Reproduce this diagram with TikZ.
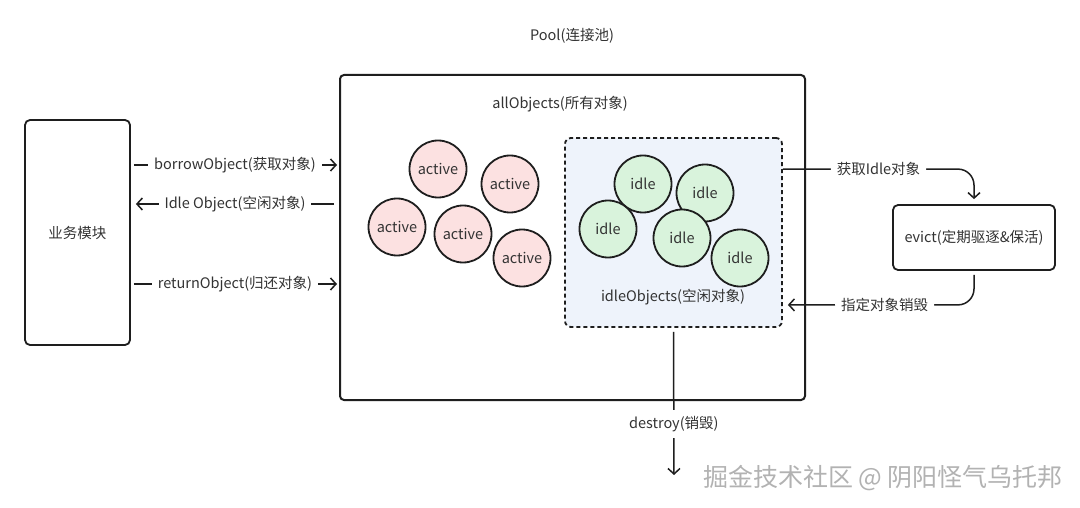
\documentclass[tikz,border=0pt]{standalone}
\usepackage{fontspec}
\setmainfont{Noto Sans CJK SC}
\usetikzlibrary{arrows.meta}
\definecolor{ink}{HTML}{1E1E1E}
\definecolor{actfill}{HTML}{FCE1E1}
\definecolor{idlefill}{HTML}{D9F3DC}
\definecolor{boxfill}{HTML}{EEF3FB}
\definecolor{txt}{HTML}{333333}
\newcommand\dfont{\fontsize{14.5}{16}\selectfont}
\newcommand\wmfont{\fontsize{25}{28}\selectfont}
\begin{document}
\begin{tikzpicture}[x=1pt,y=-1pt,
  every node/.style={font=\dfont, text=txt},
  ln/.style={line width=1.5pt, draw=ink},
  arr/.style={ln, -{Straight Barb[length=5.5pt,width=12pt]}},
  lbl/.style={fill=white, inner sep=6pt},
  bizbox/.style={draw=ink, line width=1.8pt, rounded corners=5pt},
  poolbox/.style={draw=ink, line width=2pt, rounded corners=4pt},
  dashbox/.style={draw=ink, line width=1.8pt, dash pattern=on 4pt off 3pt, rounded corners=6pt, fill=boxfill},
  ball/.style={circle, draw=ink, line width=1.8pt, minimum size=57pt, inner sep=0pt},
  act/.style={ball, fill=actfill},
  idl/.style={ball, fill=idlefill}]
\useasboundingbox (0,0) rectangle (1080,508);
\fill[white] (0,0) rectangle (1080,508);

% boxes
\node[bizbox, minimum width=105pt, minimum height=225pt] (biz) at (77.5,232.5) {业务模块};
\node[poolbox, minimum width=465pt, minimum height=325pt] (pool) at (572.5,237.5) {};
\node (poollbl) at (572,36) {Pool(连接池)};
\node (alllbl) at (560,104) {allObjects(所有对象)};
\node[dashbox, minimum width=217pt, minimum height=189pt] (idlebox) at (673.5,232.5) {};
\node (idlelbl) at (673,297) {idleObjects(空闲对象)};
\node[bizbox, minimum width=162pt, minimum height=65pt] (evict) at (974,237.5) {evict(定期驱逐\&保活)};

% active objects
\node[act] (a1) at (438,169) {active};
\node[act] (a2) at (510,184) {active};
\node[act] (a3) at (397,227) {active};
\node[act] (a4) at (463,234) {active};
\node[act] (a5) at (522,258) {active};

% idle objects
\node[idl] (i1) at (643,184) {idle};
\node[idl] (i2) at (705,193) {idle};
\node[idl] (i3) at (608,229) {idle};
\node[idl] (i4) at (682,238) {idle};
\node[idl] (i5) at (740,258) {idle};

% left connectors
\coordinate (r1) at (0,165);
\coordinate (r2) at (0,204);
\coordinate (r3) at (0,284);
\draw[arr, shorten <=3pt, shorten >=2pt] (biz.east |- r1) -- node[lbl]{borrowObject(获取对象)} (pool.west |- r1);
\draw[arr, shorten <=5pt, shorten >=5pt] (pool.west |- r2) -- node[lbl]{Idle Object(空闲对象)} (biz.east |- r2);
\draw[arr, shorten <=3pt, shorten >=2pt] (biz.east |- r3) -- node[lbl]{returnObject(归还对象)} (pool.west |- r3);

% evict loop
\draw[arr, rounded corners=16pt] ([yshift=-32pt]idlebox.north east) -| node[lbl, pos=0.25]{获取Idle对象} ([yshift=5pt]evict.north);
\draw[arr, rounded corners=16pt, shorten <=4pt] (evict.south) |- node[lbl, pos=0.74]{指定对象销毁} ([xshift=5pt,yshift=23pt]idlebox.south east);

% destroy
\coordinate (dend) at (674,475);
\draw[arr, shorten <=4pt] (idlebox.south) -- node[lbl, pos=0.655]{destroy(销毁)} (dend);

% watermark
\node[font=\wmfont, text=gray!60] (wm) at (883,478) {掘金技术社区 @ 阴阳怪气乌托邦};
\end{tikzpicture}
\end{document}
